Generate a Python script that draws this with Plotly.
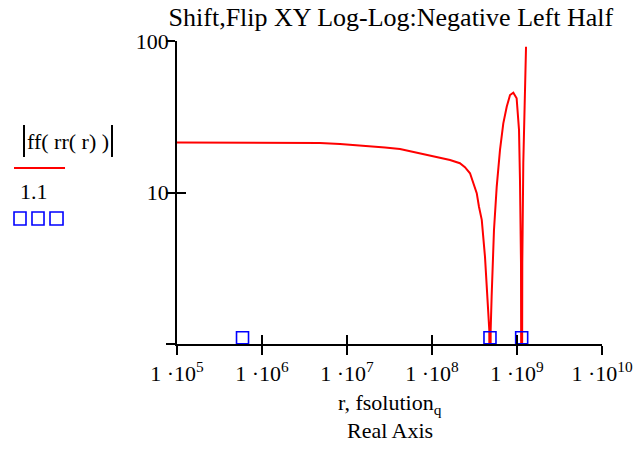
import plotly.graph_objects as go

# |ff(rr(r))| curve
r_vals = [1e5, 5.5e5, 3.0e6, 4.81e6, 8.28e6, 1.24e7, 1.87e7, 2.8e7, 4.2e7, 7.22e7, 1.15e8,
          1.63e8, 2.13e8, 2.44e8, 2.8e8, 3.06e8, 3.36e8, 3.57e8, 3.85e8, 4.2e8, 4.52e8,
          4.72e8, 4.81e8, 4.9e8, 5.03e8, 5.27e8, 5.36e8, 5.77e8, 6.31e8, 6.9e8, 7.57e8,
          8.28e8, 9.05e8, 9.9e8, 1.056e9, 1.084e9, 1.114e9, 1.135e9, 1.154e9, 1.186e9,
          1.233e9, 1.277e9]
ff_vals = [21.4, 21.4, 21.3, 21.2, 20.9, 20.6, 20.3, 19.8, 19.4, 18.2, 17.2,
           16.4, 15.6, 14.7, 13.4, 11.55, 9.9, 8.06, 6.6, 3.77, 2.05,
           1.24, 0.02, 1.24, 2.05, 4.64, 5.65, 10.9, 19.1, 28.6, 36.8,
           44.0, 45.6, 41.9, 25.9, 12.1, 3.42, 0.02, 3.42, 15.7,
           42.9, 91.7]

# fsolution_q markers at 1.1
fsolution_q = [5.9e5, 4.81e8, 1.135e9]
marker_level = [1.1, 1.1, 1.1]

x_tickvals = [1e5, 1e6, 1e7, 1e8, 1e9, 1e10]
x_ticktext = ["1 ·10<sup>5</sup>", "1 ·10<sup>6</sup>", "1 ·10<sup>7</sup>",
              "1 ·10<sup>8</sup>", "1 ·10<sup>9</sup>", "1 ·10<sup>10</sup>"]
y_tickvals = [1, 10, 100]
y_ticktext = ["", "10", "100"]

FONT = "Liberation Serif, Times New Roman, serif"
RED = "#FF0000"
BLUE = "#0000FF"

fig = go.Figure()
fig.add_trace(go.Scatter(x=r_vals, y=ff_vals, mode="lines",
                         line=dict(color=RED, width=2), showlegend=False))
fig.add_trace(go.Scatter(x=fsolution_q, y=marker_level, mode="markers",
                         marker=dict(symbol="square-open", size=12, color=BLUE,
                                     line=dict(color=BLUE, width=1.6)),
                         showlegend=False, cliponaxis=False))
fig.add_trace(go.Scatter(x=[], y=[], xaxis="x2", yaxis="y2", showlegend=False))

axis_common = dict(showgrid=False, zeroline=False, tickcolor="black", tickwidth=1.6,
                   ticklen=9, automargin=False)
fig.update_layout(
    width=634, height=452,
    margin=dict(l=177, r=32, t=41, b=108, autoexpand=False),
    paper_bgcolor="white", plot_bgcolor="white",
    font=dict(family=FONT, size=22, color="black"),
    title=dict(text="Shift,Flip XY Log-Log:Negative Left Half", x=0.6165, xanchor="center",
               y=0.962, yanchor="middle", font=dict(family=FONT, size=26, color="black")),
    xaxis=dict(type="log", range=[5, 10], tickvals=x_tickvals, ticktext=x_ticktext,
               ticks="outside", showline=True, linecolor="black", linewidth=1.6,
               tickfont=dict(family=FONT, size=22), anchor="y", **axis_common),
    yaxis=dict(type="log", range=[0, 2], tickvals=y_tickvals, ticktext=y_ticktext,
               ticks="outside", showline=True, linecolor="black", linewidth=1.6,
               tickfont=dict(family=FONT, size=22), anchor="x", ticklabelstandoff=-7,
               **axis_common),
    xaxis2=dict(type="log", range=[5, 10], tickvals=x_tickvals, overlaying="x",
                anchor="y", side="bottom", ticks="inside", showticklabels=False,
                showline=False, **axis_common),
    yaxis2=dict(type="log", range=[0, 2], tickvals=y_tickvals, overlaying="y",
                anchor="x", side="left", ticks="inside", showticklabels=False,
                showline=False, **axis_common),
)

# axis titles
fig.add_annotation(text="r, fsolution<sub>q</sub>", xref="paper", yref="paper",
                   x=0.5, y=-0.198, xanchor="center", yanchor="middle",
                   showarrow=False, font=dict(family=FONT, size=22))
fig.add_annotation(text="Real Axis", xref="paper", yref="paper",
                   x=0.5, y=-0.287, xanchor="center", yanchor="middle",
                   showarrow=False, font=dict(family=FONT, size=22))

# legend block on the left (Mathcad style)
fig.add_annotation(text="ff( rr( r) )", xref="paper", yref="paper",
                   x=-0.2565, y=0.6667, xanchor="center", yanchor="middle",
                   showarrow=False, font=dict(family=FONT, size=22))
for bx in [-0.36, -0.153]:
    fig.add_shape(type="line", xref="paper", yref="paper", x0=bx, x1=bx,
                  y0=0.6172, y1=0.7228, line=dict(color="black", width=2))
fig.add_shape(type="line", xref="paper", yref="paper", x0=-0.3835, x1=-0.2635,
              y0=0.581, y1=0.581, line=dict(color=RED, width=2))
fig.add_annotation(text="1.1", xref="paper", yref="paper",
                   x=-0.3365, y=0.503, xanchor="center", yanchor="middle",
                   showarrow=False, font=dict(family=FONT, size=22))
for x0, x1 in [(-0.3835, -0.3553), (-0.3412, -0.3129), (-0.2988, -0.2682)]:
    fig.add_shape(type="rect", xref="paper", yref="paper", x0=x0, x1=x1,
                  y0=0.3927, y1=0.4356, line=dict(color=BLUE, width=1.6))

fig.write_html("out.html")
